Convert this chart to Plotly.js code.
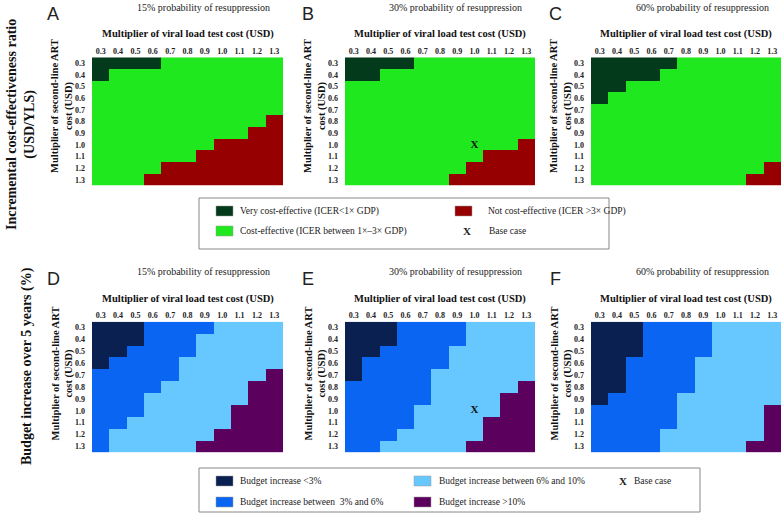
<!DOCTYPE html>
<html>
<head>
<meta charset="utf-8">
<script src="https://cdn.plot.ly/plotly-3.0.1.min.js"></script>
<style>html,body{margin:0;padding:0;background:#fff;}#chart{width:782px;height:521px;}</style>
</head>
<body>
<div id="chart"></div>
<script>
// Categories (multipliers)
const vlCost = ['0.3','0.4','0.5','0.6','0.7','0.8','0.9','1.0','1.1','1.2','1.3'];
const artCost = ['0.3','0.4','0.5','0.6','0.7','0.8','0.9','1.0','1.1','1.2','1.3'];

// ICER class: 0 very cost-effective, 1 cost-effective, 2 not cost-effective (rows = ART 0.3..1.3)
const icer15 = [
  [0,0,0,0,1,1,1,1,1,1,1],
  [0,1,1,1,1,1,1,1,1,1,1],
  [1,1,1,1,1,1,1,1,1,1,1],
  [1,1,1,1,1,1,1,1,1,1,1],
  [1,1,1,1,1,1,1,1,1,1,1],
  [1,1,1,1,1,1,1,1,1,1,2],
  [1,1,1,1,1,1,1,1,1,2,2],
  [1,1,1,1,1,1,1,2,2,2,2],
  [1,1,1,1,1,1,2,2,2,2,2],
  [1,1,1,1,2,2,2,2,2,2,2],
  [1,1,1,2,2,2,2,2,2,2,2]
];
const icer30 = [
  [0,0,0,0,1,1,1,1,1,1,1],
  [0,0,1,1,1,1,1,1,1,1,1],
  [1,1,1,1,1,1,1,1,1,1,1],
  [1,1,1,1,1,1,1,1,1,1,1],
  [1,1,1,1,1,1,1,1,1,1,1],
  [1,1,1,1,1,1,1,1,1,1,1],
  [1,1,1,1,1,1,1,1,1,1,1],
  [1,1,1,1,1,1,1,1,1,1,2],
  [1,1,1,1,1,1,1,1,2,2,2],
  [1,1,1,1,1,1,1,2,2,2,2],
  [1,1,1,1,1,1,2,2,2,2,2]
];
const icer60 = [
  [0,0,0,0,0,1,1,1,1,1,1],
  [0,0,0,0,1,1,1,1,1,1,1],
  [0,0,1,1,1,1,1,1,1,1,1],
  [0,1,1,1,1,1,1,1,1,1,1],
  [1,1,1,1,1,1,1,1,1,1,1],
  [1,1,1,1,1,1,1,1,1,1,1],
  [1,1,1,1,1,1,1,1,1,1,1],
  [1,1,1,1,1,1,1,1,1,1,1],
  [1,1,1,1,1,1,1,1,1,1,1],
  [1,1,1,1,1,1,1,1,1,1,2],
  [1,1,1,1,1,1,1,1,1,2,2]
];
// Budget class: 0 <3%, 1 3-6%, 2 6-10%, 3 >10%
const budget15 = [
  [0,0,0,1,1,1,1,2,2,2,2],
  [0,0,0,1,1,1,2,2,2,2,2],
  [0,0,1,1,1,1,2,2,2,2,2],
  [0,1,1,1,1,2,2,2,2,2,2],
  [1,1,1,1,1,2,2,2,2,2,3],
  [1,1,1,1,2,2,2,2,2,3,3],
  [1,1,1,2,2,2,2,2,2,3,3],
  [1,1,1,2,2,2,2,2,3,3,3],
  [1,1,2,2,2,2,2,2,3,3,3],
  [1,2,2,2,2,2,2,3,3,3,3],
  [1,2,2,2,2,2,3,3,3,3,3]
];
const budget30 = [
  [0,0,0,1,1,1,1,2,2,2,2],
  [0,0,0,1,1,1,1,2,2,2,2],
  [0,0,1,1,1,1,2,2,2,2,2],
  [0,1,1,1,1,1,2,2,2,2,2],
  [0,1,1,1,1,2,2,2,2,2,2],
  [1,1,1,1,1,2,2,2,2,2,3],
  [1,1,1,1,1,2,2,2,2,3,3],
  [1,1,1,1,2,2,2,2,2,3,3],
  [1,1,1,1,2,2,2,2,3,3,3],
  [1,1,1,2,2,2,2,2,3,3,3],
  [1,1,2,2,2,2,2,3,3,3,3]
];
const budget60 = [
  [0,0,0,1,1,1,1,2,2,2,2],
  [0,0,0,1,1,1,1,2,2,2,2],
  [0,0,0,1,1,1,1,2,2,2,2],
  [0,0,1,1,1,1,2,2,2,2,2],
  [0,0,1,1,1,1,2,2,2,2,2],
  [0,0,1,1,1,1,2,2,2,2,2],
  [0,1,1,1,1,2,2,2,2,2,2],
  [1,1,1,1,1,2,2,2,2,2,3],
  [1,1,1,1,1,2,2,2,2,2,3],
  [1,1,1,1,2,2,2,2,2,2,3],
  [1,1,1,1,2,2,2,2,2,3,3]
];
const baseCase = {vl: '1.0', art: '1.0'};

const icerLabels = ['Very cost-effective (ICER<1\u00d7 GDP)', 'Cost-effective (ICER between 1\u00d7\u20133\u00d7 GDP)', 'Not cost-effective (ICER >3\u00d7 GDP)'];
const budgetLabels = ['Budget increase <3%', 'Budget increase between  3% and 6%', 'Budget increase between 6% and 10%', 'Budget increase >10%'];
const probTitles = ['15% probability of resuppression', '30% probability of resuppression', '60% probability of resuppression'];

const icerColors = ['#033a1b', '#1fe81f', '#960000'];
const budgetColors = ['#0a2050', '#0a66f2', '#66c8ff', '#5c005e'];

function discreteScale(colors) {
  const n = colors.length, s = [];
  colors.forEach((c, i) => { s.push([i / n, c]); s.push([(i + 1) / n, c]); });
  return s;
}

const W = 782, H = 521;
const px = x => x / W;
const py = y => 1 - y / H;

const colX = [[92, 283], [345, 535], [591, 781]];
const rowY = [[57.3, 185.7], [321.7, 452.3]];
const grids = [[icer15, icer30, icer60], [budget15, budget30, budget60]];
const palettes = [icerColors, budgetColors];

const traces = [];
const layout = {
  width: W, height: H,
  margin: {l: 0, r: 0, t: 0, b: 0},
  paper_bgcolor: '#fff', plot_bgcolor: '#fff',
  showlegend: false,
  font: {family: 'Liberation Serif', color: '#111'},
  annotations: [], shapes: []
};
const tickFont = {family: 'Liberation Serif', size: 8, color: '#222', weight: 'bold'};
const letters = [['A','B','C'],['D','E','F']];
let k = 0;
for (let r = 0; r < 2; r++) {
  for (let c = 0; c < 3; c++) {
    k++;
    const xa = k === 1 ? 'x' : 'x' + k, ya = k === 1 ? 'y' : 'y' + k;
    const cols = palettes[r];
    traces.push({
      type: 'heatmap', x: vlCost, y: artCost, z: grids[r][c],
      xaxis: xa, yaxis: ya, zmin: -0.5, zmax: cols.length - 0.5,
      colorscale: discreteScale(cols), showscale: false, hoverinfo: 'skip'
    });
    if (c === 1) {
      traces.push({
        type: 'scatter', mode: 'text', x: [baseCase.vl], y: [baseCase.art],
        text: ['X'], textfont: {family: 'Liberation Serif', size: 11, color: '#111', weight: 'bold'},
        xaxis: xa, yaxis: ya, hoverinfo: 'skip'
      });
    }
    const axn = k === 1 ? '' : k;
    layout['xaxis' + axn] = {
      domain: [px(colX[c][0]), px(colX[c][1])], anchor: ya, type: 'category',
      side: 'top', showgrid: false, zeroline: false, showline: false, ticks: '',
      tickfont: tickFont, ticklabelstandoff: 1, fixedrange: true
    };
    layout['yaxis' + axn] = {
      domain: [py(rowY[r][1]), py(rowY[r][0])], anchor: xa, type: 'category',
      autorange: 'reversed', showgrid: false, zeroline: false, showline: false, ticks: '',
      tickfont: tickFont, ticklabelstandoff: 6, fixedrange: true
    };
    const off = r === 0 ? 0 : 264.5;
    const cx = (colX[c][0] + colX[c][1]) / 2;
    // panel letter
    layout.annotations.push({xref: 'paper', yref: 'paper', x: px([53, 308, 555][c]), y: py(14 + off),
      text: letters[r][c], showarrow: false, xanchor: 'center', yanchor: 'middle',
      font: {family: 'Liberation Sans', size: 18, color: '#222'}});
    // subtitle
    layout.annotations.push({xref: 'paper', yref: 'paper', x: px([203, 455, 702][c]), y: py(7 + off),
      text: probTitles[c], showarrow: false, xanchor: 'center', yanchor: 'middle',
      font: {family: 'Liberation Serif', size: 10, color: '#222'}});
    // x axis title
    layout.annotations.push({xref: 'paper', yref: 'paper', x: px(cx), y: py(34 + off),
      text: 'Multiplier of viral load test cost (USD)', showarrow: false, xanchor: 'center', yanchor: 'middle',
      font: {family: 'Liberation Serif', size: 10.5, color: '#111', weight: 'bold'}});
    // y axis title
    layout.annotations.push({xref: 'paper', yref: 'paper', x: px(colX[c][0] - 30), y: py(106 + off + (r ? 3 : 0)),
      text: 'Multiplier of second-line ART<br>cost (USD)', showarrow: false, xanchor: 'center', yanchor: 'middle',
      textangle: -90, font: {family: 'Liberation Serif', size: 10.5, color: '#111', weight: 'bold'}});
  }
}
// Row titles
layout.annotations.push({xref: 'paper', yref: 'paper', x: px(21), y: py(125),
  text: 'Incremental cost-effectiveness ratio<br>(USD/YLS)', showarrow: false, textangle: -90,
  xanchor: 'center', yanchor: 'middle', font: {family: 'Liberation Serif', size: 14, color: '#111', weight: 'bold'}});
layout.annotations.push({xref: 'paper', yref: 'paper', x: px(27), y: py(366),
  text: 'Budget increase over 5 years (%)', showarrow: false, textangle: -90,
  xanchor: 'center', yanchor: 'middle', font: {family: 'Liberation Serif', size: 14, color: '#111', weight: 'bold'}});

// Legends
function box(x0, y0, x1, y1) {
  layout.shapes.push({type: 'rect', xref: 'paper', yref: 'paper', x0: px(x0), x1: px(x1), y0: py(y1), y1: py(y0),
    line: {color: '#888', width: 1}, fillcolor: 'rgba(0,0,0,0)'});
}
function swatch(x0, y0, color) {
  layout.shapes.push({type: 'rect', xref: 'paper', yref: 'paper', x0: px(x0), x1: px(x0 + 17), y0: py(y0 + 10), y1: py(y0),
    line: {color: '#999', width: 0.5}, fillcolor: color});
}
function label(x, y, t, bold) {
  layout.annotations.push({xref: 'paper', yref: 'paper', x: px(x), y: py(y), text: t, showarrow: false,
    xanchor: 'left', yanchor: 'middle', font: {family: 'Liberation Serif', size: bold ? 11 : 9.5, color: '#222', weight: bold ? 'bold' : 'normal'}});
}
box(199, 198, 609, 249);
swatch(216, 206, icerColors[0]); label(238, 211, icerLabels[0]);
swatch(216, 226, icerColors[1]); label(238, 231, icerLabels[1]);
swatch(455, 206, icerColors[2]); label(486, 211, icerLabels[2]);
label(461, 231, 'X', true); label(487, 231, 'Base case');

box(199, 468, 700, 512);
swatch(216, 476, budgetColors[0]); label(238, 481, budgetLabels[0]);
swatch(216, 497, budgetColors[1]); label(238, 502, budgetLabels[1]);
swatch(414, 476, budgetColors[2]); label(437, 481, budgetLabels[2]);
swatch(414, 497, budgetColors[3]); label(437, 502, budgetLabels[3]);
label(617, 481, 'X', true); label(632, 481, 'Base case');

Plotly.newPlot('chart', traces, layout, {staticPlot: true, displayModeBar: false});
</script>
</body>
</html>
